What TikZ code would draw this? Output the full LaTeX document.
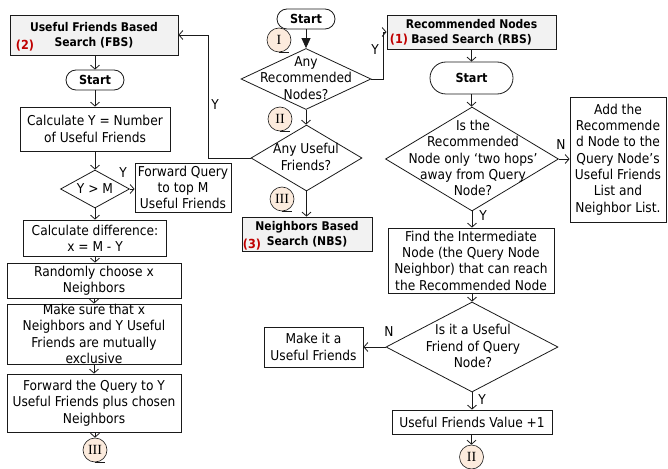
\documentclass[tikz,border=0pt]{standalone}
\usepackage{fontspec}
\setmainfont{DejaVu Sans Condensed}
\newfontfamily\numfont{Liberation Serif}
\usetikzlibrary{shapes.geometric,arrows.meta,calc}
\definecolor{ttlgray}{HTML}{F2F2F2}
\definecolor{peach}{HTML}{FCEBDD}
\definecolor{rd}{HTML}{C00000}
\definecolor{ln}{HTML}{1A1A1A}
\begin{document}
\begin{tikzpicture}[x=1pt,y=-1pt,
  every node/.style={font=\fontsize{13.6}{16.3}\selectfont, text=black},
  sz/.style 2 args={minimum width=#1pt, minimum height=#2pt},
  box/.style={draw=ln, line width=0.8pt, fill=white, align=center, inner sep=0pt},
  ttl/.style={box, fill=ttlgray, font=\bfseries\fontsize{12}{15.5}\selectfont},
  term/.style={box, rounded corners=10pt, font=\bfseries\fontsize{12.5}{14}\selectfont},
  dia/.style={diamond, draw=ln, line width=0.8pt, fill=white, inner sep=0pt},
  txt/.style={align=center, inner sep=0pt},
  conn/.style={circle, draw=ln, line width=0.6pt, fill=peach, minimum size=24pt, inner sep=0pt, font=\numfont\fontsize{14}{14}\selectfont},
  arr/.style={draw=ln, line width=0.8pt, -{Straight Barb[length=4pt,width=9pt]}},
  lab/.style={inner sep=0pt},
  rnum/.style={text=rd, inner sep=0pt, font=\bfseries\fontsize{12.5}{14}\selectfont},
  uline/.style={draw=ln, line width=0.8pt}
]
\useasboundingbox (0,0) rectangle (668,468);

% ---- left column (FBS)
\node[ttl, sz={168}{40}] (fbs) at (94,35) {Useful Friends Based\\Search (FBS)};
\node[rnum] (n2) at (25,46) {(2)};
\node[term, sz={58}{20}] (s1) at (95,80) {Start};
\node[box, sz={150}{44}] (calc) at (95,129) {Calculate Y = Number\\of Useful Friends};
\node[dia, sz={69}{38}] (d1) at (95,189) {};
\node[txt] (d1t) at (d1) {Y > M};
\node[box, sz={96}{49}] (fwd) at (183,187.5) {Forward Query\\to top M\\Useful Friends};
\node[box, sz={143}{36}] (diff) at (95,238) {Calculate difference:\\x = M - Y};
\node[box, sz={174}{35}] (rand) at (94,280.5) {Randomly choose x\\Neighbors};
\node[box, sz={174}{60}] (make) at (94,334) {Make sure that x\\Neighbors and Y Useful\\Friends are mutually\\exclusive};
\node[box, sz={174}{58}] (fq) at (94,403) {Forward the Query to Y\\Useful Friends plus chosen\\Neighbors};

% ---- middle column
\node[term, sz={58}{20}] (s2) at (306,19) {Start};
\node[dia, sz={130}{61}] (d2) at (306,79) {};
\node[txt] (d2t) at (306,78) {Any\\Recommended\\Nodes?};
\node[dia, sz={111}{66}] (d3) at (306.5,158) {};
\node[txt] (d3t) at (306,157) {Any Useful\\Friends?};
\node[ttl, sz={130}{34}] (nbs) at (307,234) {Neighbors Based\\Search (NBS)};
\node[rnum] (n3) at (252,245) {(3)};

% ---- right column (RBS)
\node[ttl, sz={169}{34}] (rbs) at (471.5,32) {Recommended Nodes\\Based Search (RBS)};
\node[rnum] (n1) at (399,40) {(1)};
\node[term, sz={83}{32}, rounded corners=16pt] (s3) at (471.5,78) {Start};
\node[dia, sz={173}{104}] (d4) at (472,159) {};
\node[txt] (d4t) at (473,158) {Is the\\Recommended\\Node only ‘two hops’\\away from Query\\Node?};
\node[box, sz={96}{125}] (add) at (618,159.5) {Add the\\Recommende\\d Node to the\\Query Node’s\\Useful Friends\\List and\\Neighbor List.};
\node[box, sz={166}{65}] (find) at (471,260.5) {Find the Intermediate\\Node (the Query Node\\Neighbor) that can reach\\the Recommended Node};
\node[dia, sz={172}{90}] (d5) at (472,347) {};
\node[txt] (d5t) at (473,346) {Is it a Useful\\Friend of Query\\Node?};
\node[box, sz={99}{40}] (mk) at (313.5,347) {Make it a\\Useful Friends};
\node[box, sz={160}{24}] (ufv) at (472,422) {Useful Friends Value +1};

% ---- connectors
\draw[arr] (fbs.south -| s1.north) -- (s1.north);
\draw[arr] (s1.south) -- (calc.north);
\draw[arr] (calc.south) -- (d1.north);
\draw[arr] (d1.east) -- (fwd.west |- d1.east);
\draw[arr] (d1.south) -- (diff.north);
\draw[arr] (diff.south) -- (diff.south |- rand.north);
\draw[arr] (rand.south) -- (make.north);
\draw[arr] (make.south) -- (fq.north);

\draw[draw=ln, line width=0.8pt, -{Triangle[length=10pt,width=9pt]}] (s2.south) -- (d2.north);
\draw[arr] (d2.east) -- ++(12,0) |- (rbs.west);
\draw[arr] (d2.south) -- (d3.north -| d2.south);
\draw[arr] (d3.west) -- ++(-42,0) |- (fbs.east);
\draw[arr] (d3.south) -- (d3.south |- nbs.north);

\draw[arr] (rbs.south) -- (rbs.south |- s3.north);
\draw[arr] (s3.south) -- (s3.south |- d4.north);
\draw[arr] (d4.east) -- (add.west |- d4.east);
\draw[arr] (d4.south) -- (d4.south |- find.north);
\draw[arr] (d5.north |- find.south) -- (d5.north);
\draw[arr] (d5.west) -- (mk.east);
\draw[arr] (d5.south) -- (d5.south |- ufv.north);

% ---- connector circles
\node[conn] (c3a) at (95,450) {III};
\node[conn] (c1) at (279,40) {I};
\node[conn] (c2) at (280,119) {II};
\node[conn] (c3b) at (282,199) {III};
\node[conn] (c2b) at (471.5,457) {II};
\draw[arr] (fq.south -| c3a.north) -- (c3a.north);
\draw[arr] (ufv.south -| c2b.north) -- (c2b.north);
\draw[uline] (c3a.south) -- ++(10,0);
\draw[uline] (c1.south) -- ++(10,0);
\draw[uline] (c2.south) -- ++(10,0);
\draw[uline] (c3b.south) -- ++(10,0);
\draw[uline] (c2b.south) -- ++(10,0);

% ---- branch labels
\node[lab] (y1) at (375,50) {Y};
\node[lab] (y2) at (215,105) {Y};
\node[lab] (y3) at (123,173) {Y};
\node[lab] (nn1) at (561,145) {N};
\node[lab] (y4) at (483,216) {Y};
\node[lab] (nn2) at (389,332) {N};
\node[lab] (y5) at (482,400) {Y};
\end{tikzpicture}
\end{document}
